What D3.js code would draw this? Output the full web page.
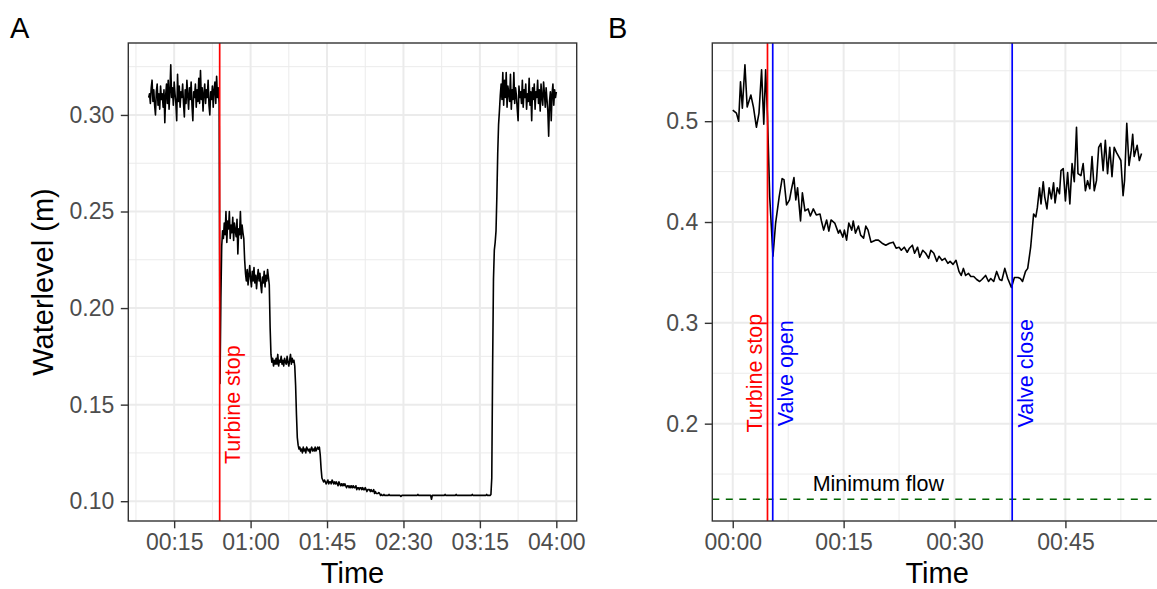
<!DOCTYPE html>
<html>
<head>
<meta charset="utf-8">
<script src="https://cdn.jsdelivr.net/npm/d3@7"></script>
<style>
body { margin: 0; background: #fff; }
svg { display: block; font-family: "Liberation Sans", Arial, Helvetica, sans-serif; }
</style>
</head>
<body>
<svg id="chart" width="1157" height="589"></svg>
<script>
// ---- panel A : water level, one reading every 0.5 min (minutes from start)
var stepA = 0.5;
var levelA = [
  .309,.311,.306,.314,.318,.307,.313,.305,.300,.312, // 0
  .316,.305,.311,.303,.315,.308,.311,.304,.313,.296, // 5
  .310,.316,.306,.318,.303,.312,.326,.309,.314,.305, // 10
  .317,.311,.306,.297,.321,.307,.315,.304,.312,.309, // 15
  .316,.306,.299,.313,.306,.318,.310,.303,.314,.308, // 20
  .317,.305,.297,.312,.309,.316,.304,.313,.307,.319, // 25
  .306,.323,.308,.314,.302,.311,.316,.306,.313,.309, // 30
  .318,.305,.300,.312,.308,.315,.304,.313,.317,.306, // 35
  .320,.309,.314,.306,.161,.205,.232,.240,.236,.244, // 40
  .238,.250,.234,.245,.241,.250,.236,.243,.239,.247, // 45
  .235,.244,.240,.237,.246,.228,.241,.238,.250,.236, // 50
  .243,.239,.236,.225,.218,.214,.220,.212,.217,.222, // 55
  .215,.211,.219,.214,.221,.213,.217,.210,.216,.220, // 60
  .214,.218,.212,.208,.216,.213,.219,.211,.217,.214, // 65
  .220,.216,.212,.190,.176,.172,.174,.170,.173,.171, // 70
  .174,.171,.176,.170,.173,.172,.175,.171,.173,.170, // 75
  .174,.172,.171,.175,.172,.170,.173,.176,.171,.174, // 80
  .172,.173,.170,.160,.145,.133,.129,.127,.128,.126, // 85
  .127,.125,.128,.126,.127,.125,.128,.127,.126,.127, // 90
  .125,.127,.128,.126,.127,.126,.128,.126,.127,.128, // 95
  .127,.128,.124,.117,.112,.111,.110,.111,.110,.109, // 100
  .110,.111,.109,.110,.110,.109,.111,.110,.109,.110, // 105
  .109,.110,.109,.108,.110,.109,.108,.109,.108,.109, // 110
  .108,.109,.108,.107,.108,.108,.107,.108,.107,.108, // 115
  .107,.108,.107,.107,.108,.106,.107,.107,.106,.107, // 120
  .107,.106,.107,.106,.106,.107,.106,.105,.106,.106, // 125
  .106,.105,.106,.105,.105,.106,.104,.105,.104,.104, // 130
  .104,.1045,.104,.103,.1035,.103,.103,.1035,.103,.103, // 135
  .103,.103,.103,.1035,.103,.103,.103,.103,.103,.103, // 140
  .103,.103,.103,.103,.103,.103,.103,.1025,.103,.103, // 145
  .103,.103,.103,.103,.103,.103,.103,.103,.103,.103, // 150
  .103,.103,.103,.103,.103,.103,.103,.1035,.103,.103, // 155
  .103,.103,.103,.103,.103,.103,.103,.103,.103,.103, // 160
  .103,.103,.103,.101,.103,.103,.103,.103,.103,.103, // 165
  .103,.103,.103,.103,.103,.103,.103,.103,.103,.1035, // 170
  .103,.103,.103,.103,.103,.103,.103,.103,.103,.103, // 175
  .103,.103,.1035,.103,.103,.103,.103,.103,.103,.103, // 180
  .103,.103,.103,.103,.103,.103,.103,.103,.103,.103, // 185
  .103,.1035,.103,.103,.103,.103,.103,.103,.103,.103, // 190
  .103,.103,.103,.103,.103,.103,.103,.103,.1035,.103, // 195
  .103,.103,.103,.1035,.112,.170,.215,.230,.234,.240, // 200
  .258,.280,.295,.302,.310,.316,.308,.322,.305,.318, // 205
  .309,.322,.304,.315,.311,.307,.321,.303,.313,.308, // 210
  .322,.306,.314,.310,.303,.297,.315,.309,.312,.306, // 215
  .318,.304,.313,.309,.316,.303,.311,.307,.319,.305, // 220
  .312,.297,.314,.308,.316,.303,.312,.309,.318,.306, // 225
  .313,.302,.316,.309,.305,.317,.311,.304,.314,.308, // 230
  .302,.289,.307,.312,.297,.311,.316,.305,.313,.309, // 235
  .312                                                // 240
];
var turbineStopA = 41.8;
var xTicksA = [15, 60, 105, 150, 195, 240];
var yTicksA = [0.10, 0.15, 0.20, 0.25, 0.30];

// ---- panel B : water level during the valve test
var timeB = [
  0.0,0.5,0.8,1.05,1.3,1.65,1.95,2.45,2.8,3.2,3.55,3.9,4.2,4.45,4.7,5.0,5.44,5.8,6.28,6.68,
  6.93,7.28,7.68,7.93,8.28,8.53,8.77,9.17,9.42,9.77,10.2,10.5,10.9,11.3,11.8,12.0,12.3,12.7,13.0,13.3,
  13.8,14.3,14.5,14.9,15.1,15.4,15.7,16.1,16.3,16.6,17.0,17.3,17.7,18.0,18.3,18.7,19.3,19.7,20.2,20.7,
  21.2,21.7,22.1,22.5,22.8,23.2,23.6,23.9,24.3,24.6,25.0,25.3,25.7,26.1,26.5,26.8,27.2,27.6,27.9,28.3,
  28.7,29.1,29.4,29.8,30.2,30.6,30.9,31.2,31.5,31.9,32.2,32.6,33.0,33.4,33.7,34.2,34.6,34.9,35.3,35.7,
  36.1,36.4,36.8,37.2,37.7,38.1,38.6,38.9,39.2,39.6,39.9,40.3,40.7,41.0,41.2,41.5,41.7,42.0,42.2,42.5,
  42.8,43.1,43.4,43.6,43.9,44.2,44.4,44.7,45.0,45.3,45.6,45.9,46.2,46.5,46.7,47.1,47.4,47.7,48.0,48.3,
  48.6,48.9,49.2,49.5,49.8,50.1,50.4,50.7,51.0,51.3,51.6,51.9,52.2,52.5,52.8,53.0,53.3,53.6,53.9,54.1,
  54.3,54.7,55.0,55.3
];
var levelB = [
  .511,.508,.500,.539,.513,.556,.514,.526,.514,.494,.508,.551,.497,.551,.505,.425,.366,.399,.425,.443,
  .442,.417,.422,.432,.444,.422,.434,.401,.429,.411,.413,.406,.413,.407,.408,.401,.392,.402,.391,.402,
  .399,.389,.392,.385,.392,.382,.399,.392,.401,.389,.396,.387,.384,.396,.392,.380,.382,.382,.379,.377,
  .379,.380,.374,.375,.372,.375,.370,.374,.377,.369,.375,.365,.372,.369,.364,.372,.369,.361,.366,.362,
  .364,.359,.361,.358,.362,.351,.347,.354,.347,.349,.346,.346,.343,.341,.343,.347,.341,.344,.341,.351,
  .343,.342,.354,.344,.335,.345,.345,.344,.341,.351,.354,.375,.408,.405,.414,.434,.418,.440,.425,.413,
  .434,.423,.439,.419,.434,.428,.451,.453,.421,.449,.418,.458,.440,.494,.448,.446,.458,.431,.441,.433,
  .465,.431,.441,.474,.478,.451,.481,.448,.474,.445,.474,.469,.465,.461,.426,.441,.498,.456,.471,.487,
  .465,.476,.461,.468
];
var turbineStopB = 4.7;
var valveOpenB = 5.41;
var valveCloseB = 37.8;
var minFlowB = 0.125;
var minFlowLabelT = 19.7;
var xTicksB = [0, 15, 30, 45];
var yTicksB = [0.2, 0.3, 0.4, 0.5];

var svg = d3.select("#chart");
var defs = svg.append("defs");

function pad2(n) { return (n < 10 ? "0" : "") + n; }
function fmtTime(m) { return pad2(Math.floor(m / 60)) + ":" + pad2(Math.round(m % 60)); }

// ggplot style 5% expansion
function expand(ext) {
  var p = (ext[1] - ext[0]) * 0.05;
  return [ext[0] - p, ext[1] + p];
}

// minor breaks half way between the major ones
function minors(majors, domain) {
  var step = majors[1] - majors[0], out = [];
  for (var v = majors[0] - step / 2; v <= majors[majors.length - 1] + step / 2 + 1e-9; v += step) {
    if (v >= domain[0] && v <= domain[1]) out.push(v);
  }
  return out;
}

function drawPanel(cfg) {
  var x = cfg.x, y = cfg.y;
  var L = x.range()[0], R = x.range()[1], T = y.range()[1], B = y.range()[0];
  var g = svg.append("g");

  defs.append("clipPath").attr("id", cfg.id)
    .append("rect").attr("x", L).attr("y", T).attr("width", R - L).attr("height", B - T);

  g.append("rect").attr("x", L).attr("y", T).attr("width", R - L).attr("height", B - T)
    .attr("fill", "#fff");

  // minor grid
  g.selectAll(".mx").data(minors(cfg.xTicks, x.domain())).enter().append("line")
    .attr("x1", function(d) { return x(d); }).attr("x2", function(d) { return x(d); })
    .attr("y1", T).attr("y2", B)
    .attr("stroke", "#EBEBEB").attr("stroke-width", 1);
  g.selectAll(".my").data(minors(cfg.yTicks, y.domain())).enter().append("line")
    .attr("y1", function(d) { return y(d); }).attr("y2", function(d) { return y(d); })
    .attr("x1", L).attr("x2", R)
    .attr("stroke", "#EBEBEB").attr("stroke-width", 1);
  // major grid
  g.selectAll(".gx").data(cfg.xTicks).enter().append("line")
    .attr("x1", function(d) { return x(d); }).attr("x2", function(d) { return x(d); })
    .attr("y1", T).attr("y2", B)
    .attr("stroke", "#EBEBEB").attr("stroke-width", 2);
  g.selectAll(".gy").data(cfg.yTicks).enter().append("line")
    .attr("y1", function(d) { return y(d); }).attr("y2", function(d) { return y(d); })
    .attr("x1", L).attr("x2", R)
    .attr("stroke", "#EBEBEB").attr("stroke-width", 2);

  var plot = g.append("g").attr("clip-path", "url(#" + cfg.id + ")");

  if (cfg.hline) {
    plot.append("line")
      .attr("x1", L).attr("x2", R)
      .attr("y1", y(cfg.hline.v)).attr("y2", y(cfg.hline.v))
      .attr("stroke", "#006400").attr("stroke-width", 1.4)
      .attr("stroke-dasharray", "7,6.5");
  }

  var line = d3.line()
    .x(function(d) { return x(d[0]); })
    .y(function(d) { return y(d[1]); });
  plot.append("path").datum(cfg.data)
    .attr("d", line)
    .attr("fill", "none").attr("stroke", "#000").attr("stroke-width", 1.6)
    .attr("stroke-linejoin", "round");

  cfg.marks.forEach(function(m) {
    plot.append("line")
      .attr("x1", x(m.t)).attr("x2", x(m.t)).attr("y1", T).attr("y2", B)
      .attr("stroke", m.color).attr("stroke-width", 1.7);
    g.append("text")
      .attr("transform", "translate(" + (x(m.t) + m.dx) + "," + y(cfg.labelY) + ") rotate(-90)")
      .attr("text-anchor", "middle")
      .attr("font-size", 21.5)
      .attr("fill", m.color)
      .text(m.label);
  });

  if (cfg.hline) {
    g.append("text")
      .attr("x", x(cfg.hline.labelT)).attr("y", y(cfg.hline.v) - 8)
      .attr("text-anchor", "middle").attr("font-size", 21.5).attr("fill", "#000")
      .text(cfg.hline.label);
  }

  // frame
  g.append("rect").attr("x", L).attr("y", T).attr("width", R - L).attr("height", B - T)
    .attr("fill", "none").attr("stroke", "#333333").attr("stroke-width", 1.4);

  // axes
  var xa = g.append("g").attr("transform", "translate(0," + B + ")")
    .call(d3.axisBottom(x).tickValues(cfg.xTicks).tickFormat(cfg.xFormat)
      .tickSize(7.3).tickPadding(5));
  var ya = g.append("g").attr("transform", "translate(" + L + ",0)")
    .call(d3.axisLeft(y).tickValues(cfg.yTicks).tickFormat(cfg.yFormat)
      .tickSize(7.5).tickPadding(6.5));
  [xa, ya].forEach(function(a) {
    a.select(".domain").remove();
    a.selectAll(".tick line").attr("stroke", "#333333").attr("stroke-width", 1.4);
    a.selectAll(".tick text").attr("fill", "#4D4D4D").attr("font-size", 23)
      .attr("font-family", "\"Liberation Sans\", Arial, sans-serif");
  });

  g.append("text")
    .attr("x", (L + Math.min(R, cfg.titleRight)) / 2).attr("y", 583)
    .attr("text-anchor", "middle").attr("font-size", 29).attr("fill", "#000")
    .text("Time");

  if (cfg.yTitle) {
    g.append("text")
      .attr("transform", "translate(53," + (T + B) / 2 + ") rotate(-90)")
      .attr("text-anchor", "middle").attr("font-size", 29).attr("fill", "#000")
      .text(cfg.yTitle);
  }

  svg.append("text").attr("x", cfg.tagX).attr("y", 38)
    .attr("font-size", 29).attr("fill", "#000").text(cfg.tag);
}

// panel A
var dataA = levelA.map(function(v, i) { return [i * stepA, v]; });
var xA = d3.scaleLinear().domain(expand(d3.extent(dataA, function(d) { return d[0]; })))
  .range([128.3, 576.7]);
var yA = d3.scaleLinear().domain(expand(d3.extent(levelA))).range([521, 43]);

drawPanel({
  id: "clipA", x: xA, y: yA, data: dataA,
  xTicks: xTicksA, yTicks: yTicksA,
  xFormat: fmtTime, yFormat: d3.format(".2f"),
  marks: [{ t: turbineStopA, color: "#FF0000", label: "Turbine stop", dx: 20.5 }],
  labelY: 0.15,
  yTitle: "Waterlevel (m)", tag: "A", tagX: 10, titleRight: 576.7
});

// panel B
var dataB = timeB.map(function(t, i) { return [t, levelB[i]]; });
var xB = d3.scaleLinear().domain(expand(d3.extent(timeB))).range([712.3, 1162]);
var yB = d3.scaleLinear().domain(expand(d3.extent(levelB.concat([minFlowB])))).range([521, 43]);

drawPanel({
  id: "clipB", x: xB, y: yB, data: dataB,
  xTicks: xTicksB, yTicks: yTicksB,
  xFormat: fmtTime, yFormat: d3.format(".1f"),
  marks: [
    { t: turbineStopB, color: "#FF0000", label: "Turbine stop", dx: -5.5 },
    { t: valveOpenB, color: "#0000FF", label: "Valve open", dx: 20.5 },
    { t: valveCloseB, color: "#0000FF", label: "Valve close", dx: 20.5 }
  ],
  labelY: 0.25,
  hline: { v: minFlowB, label: "Minimum flow", labelT: minFlowLabelT },
  tag: "B", tagX: 608, titleRight: 1162
});
</script>
</body>
</html>
